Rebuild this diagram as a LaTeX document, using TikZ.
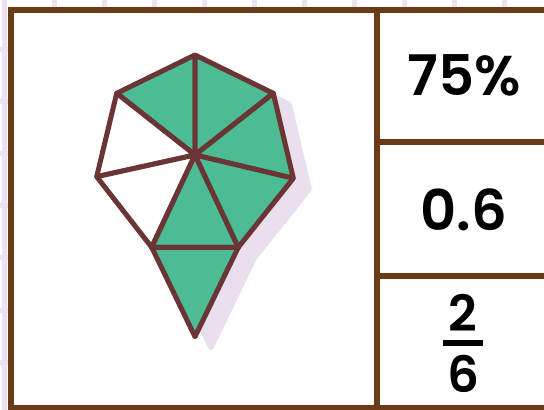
\documentclass[tikz,border=0pt]{standalone}
\usepackage{fontspec}
\setmainfont{Poppins}[BoldFont={Poppins SemiBold}]
\usepackage{tikz}
\usetikzlibrary{positioning,calc}
\definecolor{gridlilac}{HTML}{ECE2F1}
\definecolor{shadelilac}{HTML}{E9DFEF}
\definecolor{frameborder}{HTML}{6B3A17}
\definecolor{pieceedge}{HTML}{6B3535}
\definecolor{piecegreen}{HTML}{4BBC93}

\begin{document}
\begin{tikzpicture}[x=0.5pt,y=-0.5pt,
  piece/.style={draw=pieceedge,line width=2.5pt,line join=round},
  rulebar/.style={frameborder,line width=3pt},
  answer/.style={font=\fontsize{28}{30}\selectfont\bfseries}]
\useasboundingbox (0,0) rectangle (544,410);
% lilac grid behind the card
\foreach \gx in {4,54,...,554} \draw[gridlilac,line width=2.5pt] (\gx,-5) -- (\gx,415);
\foreach \gy in {-2,50,...,414} \draw[gridlilac,line width=2.5pt] (-5,\gy) -- (560,\gy);
\fill[white] (11,10.5) rectangle (560,407.5);
% corners of the shape
\coordinate (T) at (195,55);
\coordinate (UL) at (116.7,93.3);
\coordinate (UR) at (273.3,93.3);
\coordinate (C) at (195,155);
\coordinate (L) at (96.7,176.7);
\coordinate (R) at (293.3,178.3);
\coordinate (LL) at (151.7,247.3);
\coordinate (LR) at (238.3,247.3);
\coordinate (B) at (195,336.7);
% shadow
\filldraw[shadelilac,line width=2.5pt,line join=round]
  ($(T)+(16,11)$) -- ($(UR)+(16,11)$) -- ($(R)+(16,11)$) -- ($(LR)+(16,11)$)
  -- ($(B)+(16,11)$) -- ($(LL)+(16,11)$) -- ($(L)+(16,11)$) -- ($(UL)+(16,11)$) -- cycle;
% pieces
\filldraw[piece,fill=piecegreen] (T) -- (UL) -- (C) -- cycle;
\filldraw[piece,fill=piecegreen] (T) -- (C) -- (UR) -- cycle;
\filldraw[piece,fill=piecegreen] (UR) -- (C) -- (R) -- cycle;
\filldraw[piece,fill=white] (UL) -- (C) -- (L) -- cycle;
\filldraw[piece,fill=white] (L) -- (C) -- (LL) -- cycle;
\filldraw[piece,fill=piecegreen] (C) -- (LL) -- (LR) -- cycle;
\filldraw[piece,fill=piecegreen] (C) -- (LR) -- (R) -- cycle;
\filldraw[piece,fill=piecegreen] (LL) -- (LR) -- (B) -- cycle;
% table lines
\draw[rulebar] (560,10.5) -- (11,10.5) -- (11,407.5) -- (560,407.5);
\draw[rulebar] (377,10.5) -- (377,407.5);
\draw[rulebar] (377,142.5) -- (560,142.5);
\draw[rulebar] (377,276) -- (560,276);
% answers
\node[answer] (pct) at (464,75) {75\%};
\node[answer] (dec) at (464,210) {0.6};
\node[answer,font=\fontsize{25}{27}\selectfont\bfseries] (num) at (463,312.5) {2};
\node[answer,font=\fontsize{25}{27}\selectfont\bfseries] (den) at (463,374) {6};
\coordinate (barL) at (443,343);
\coordinate (barR) at (483,343);
\draw[line width=3pt] (barL) -- (barR);
\end{tikzpicture}
\end{document}
